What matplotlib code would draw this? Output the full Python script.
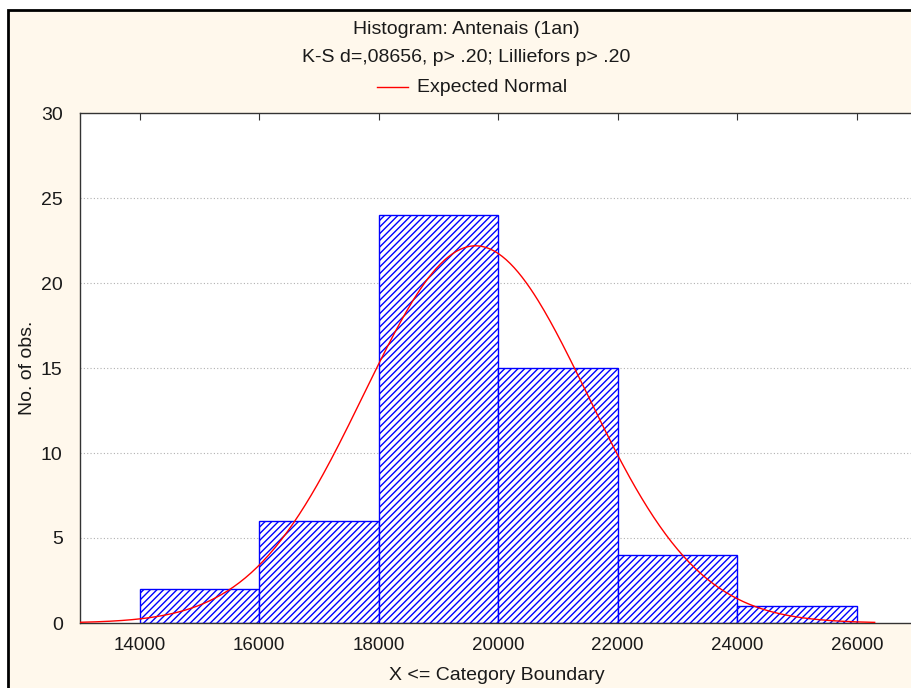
import numpy as np
import matplotlib
matplotlib.use("Agg")
import matplotlib.pyplot as plt
from matplotlib.patches import Rectangle

plt.rcParams['font.family'] = ['Liberation Sans', 'DejaVu Sans']
plt.rcParams['hatch.linewidth'] = 1.0
plt.rcParams['hatch.color'] = '#4040FF'

# Data
bin_edges = [14000, 16000, 18000, 20000, 22000, 24000, 26000]
counts = [2, 6, 24, 15, 4, 1]
x_ticks = [14000, 16000, 18000, 20000, 22000, 24000, 26000]
y_ticks = [0, 5, 10, 15, 20, 25, 30]
norm_mean = 19620
norm_sd = 1870
norm_n = sum(counts)
curve_range = (13000, 26300)

title1 = "Histogram: Antenais (1an)"
title2 = "K-S d=,08656, p> .20; Lilliefors p> .20"
legend_label = "Expected Normal"
xlabel = "X <= Category Boundary"
ylabel = "No. of obs."

W, H = 911, 688
fig = plt.figure(figsize=(W / 100, H / 100), dpi=100, facecolor='white')

# Outer cream panel with black border
fig.patches.append(Rectangle((8 / W, -0.1), 1.2, 1 - 10 / H + 0.1, transform=fig.transFigure,
                             facecolor='#FFF8EC', edgecolor='black', linewidth=2, zorder=-10))

left_px, right_px, top_px, bot_px = 80, 925, 113, 623
ax = fig.add_axes([left_px / W, 1 - bot_px / H, (right_px - left_px) / W, (bot_px - top_px) / H])
ax.set_zorder(5)
ax.set_facecolor('white')

px_per_unit = 119.5 / 2000
xmin = 13000
xmax = xmin + (right_px - left_px) / px_per_unit
ax.set_xlim(xmin, xmax)
ax.set_ylim(0, 30)

widths = np.diff(bin_edges)
ax.bar(bin_edges[:-1], counts, width=widths, align='edge', facecolor='white',
       edgecolor='#0000FF', hatch='/////', linewidth=1.0, zorder=2)

xs = np.linspace(curve_range[0], curve_range[1], 400)
binw = bin_edges[1] - bin_edges[0]
ys = norm_n * binw / (norm_sd * np.sqrt(2 * np.pi)) * np.exp(-0.5 * ((xs - norm_mean) / norm_sd) ** 2)
ax.plot(xs, ys, color='#FF0000', linewidth=1.0, zorder=3)

for y in y_ticks[1:-1]:
    ax.axhline(y, color='#B0B0B0', linestyle=(0, (1, 2)), linewidth=0.8, zorder=1)

ax.set_xticks(x_ticks)
ax.set_xticklabels([str(v) for v in x_ticks])
ax.set_yticks(y_ticks)
ax.tick_params(axis='x', which='both', bottom=False, top=True, direction='in', length=5,
               labelsize=13.5, pad=10, color='#333333', labelcolor='#1A1A1A')
ax.tick_params(axis='y', left=False, labelsize=14, pad=9, labelcolor='#1A1A1A')
for s in ax.spines.values():
    s.set_color('#333333')
    s.set_linewidth(1.0)

ax.set_xlabel(xlabel, fontsize=14, color='#1A1A1A')
ax.set_ylabel(ylabel, fontsize=14, color='#1A1A1A')
ax.xaxis.set_label_coords((497 - left_px) / (right_px - left_px), -(676 - bot_px) / (bot_px - top_px))
ax.xaxis.label.set_va('center')
ax.yaxis.set_label_coords(-(80 - 28) / (right_px - left_px), 0.5)
ax.yaxis.label.set_va('center')

cx = 466 / W
fig.text(cx, 1 - 30 / H, title1, ha='center', va='center', fontsize=14, color='#1A1A1A')
fig.text(cx, 1 - 58 / H, title2, ha='center', va='center', fontsize=14, color='#1A1A1A')
fig.add_artist(plt.Line2D([377 / W, 408 / W], [1 - 87 / H, 1 - 87 / H], color='#FF0000', linewidth=1.0,
                          transform=fig.transFigure))
fig.text(417 / W, 1 - 87 / H, legend_label, ha='left', va='center', fontsize=14, color='#1A1A1A')

fig.savefig('out.png', dpi=100, facecolor=fig.get_facecolor())
